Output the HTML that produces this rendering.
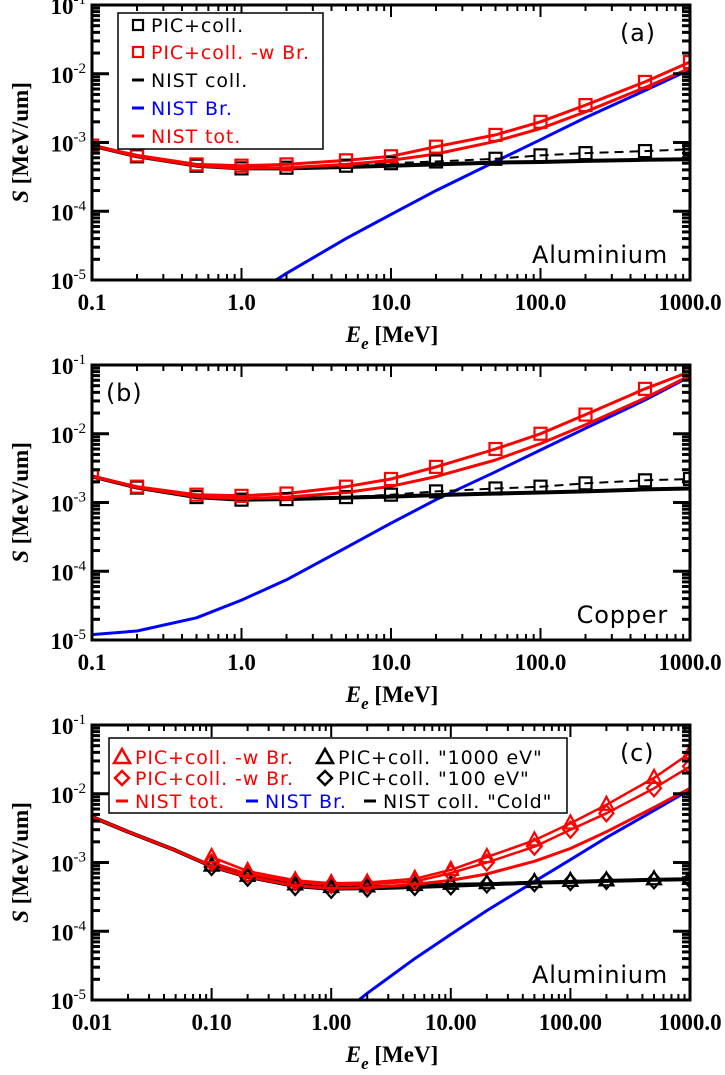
<!DOCTYPE html>
<html><head><meta charset="utf-8">
<style>
html,body{margin:0;padding:0;background:#fff;}
svg{display:block;}
.tl{font-family:"Liberation Serif",serif;font-weight:bold;font-size:23px;fill:#000;}
.lg{font-family:"DejaVu Sans","Liberation Sans",sans-serif;font-size:19px;letter-spacing:0.9px;}
.ann{font-family:"DejaVu Sans","Liberation Sans",sans-serif;font-size:24px;fill:#000;letter-spacing:0.8px;}
</style></head>
<body>
<svg id="fig" width="725" height="1075" viewBox="0 0 725 1075" xmlns="http://www.w3.org/2000/svg"></svg>
<script>
// ===== Panel (a) Aluminium =====
const aE = [0.1,0.2,0.5,1,2,5,10,20,50,100,200,500,1000];
const aColl = [9e-4,6.3e-4,4.6e-4,4.2e-4,4.2e-4,4.4e-4,4.6e-4,4.8e-4,5.1e-4,5.2e-4,5.4e-4,5.6e-4,5.7e-4];
const aBrE = [1.7,2,5,10,20,50,100,200,500,1000];
const aBr = [1e-5,1.25e-5,4e-5,9e-5,2e-4,5.3e-4,1.1e-3,2.3e-3,5.7e-3,1.15e-2];
const aTot = [9e-4,6.3e-4,4.6e-4,4.2e-4,4.3e-4,4.8e-4,5.5e-4,6.8e-4,1.04e-3,1.6e-3,2.8e-3,6.3e-3,1.2e-2];
const aPic = [9e-4,6.3e-4,4.6e-4,4.2e-4,4.3e-4,4.6e-4,5.0e-4,5.3e-4,5.8e-4,6.5e-4,7.0e-4,7.5e-4,8e-4];
const aPicBr = [9e-4,6.5e-4,4.8e-4,4.6e-4,4.8e-4,5.5e-4,6.3e-4,8.7e-4,1.29e-3,2.0e-3,3.5e-3,7.6e-3,1.48e-2];
// ===== Panel (b) Copper =====
const bE = [0.1,0.2,0.5,1,2,5,10,20,50,100,200,500,1000];
const bColl = [2.4e-3,1.65e-3,1.2e-3,1.1e-3,1.12e-3,1.18e-3,1.22e-3,1.28e-3,1.35e-3,1.4e-3,1.45e-3,1.55e-3,1.6e-3];
const bBr = [1.2e-5,1.35e-5,2.1e-5,3.8e-5,7.5e-5,2.2e-4,5e-4,1.1e-3,2.8e-3,5.8e-3,1.2e-2,3.1e-2,6.8e-2];
const bTot = [2.4e-3,1.66e-3,1.22e-3,1.14e-3,1.2e-3,1.4e-3,1.72e-3,2.38e-3,4.15e-3,7.2e-3,1.35e-2,3.3e-2,7.0e-2];
const bPic = [2.4e-3,1.65e-3,1.2e-3,1.1e-3,1.12e-3,1.2e-3,1.3e-3,1.45e-3,1.6e-3,1.7e-3,1.9e-3,2.1e-3,2.2e-3];
const bPicBr = [2.4e-3,1.7e-3,1.3e-3,1.25e-3,1.35e-3,1.7e-3,2.2e-3,3.3e-3,6e-3,1.0e-2,1.9e-2,4.5e-2,8e-2];
// ===== Panel (c) Aluminium, temperatures =====
const cE = [0.01,0.02,0.05,0.1,0.2,0.5,1,2,5,10,20,50,100,200,500,1000];
const cColl = [4.6e-3,2.8e-3,1.5e-3,8.8e-4,6.2e-4,4.6e-4,4.2e-4,4.2e-4,4.4e-4,4.6e-4,4.8e-4,5.1e-4,5.2e-4,5.4e-4,5.6e-4,5.7e-4];
const cTot = [4.6e-3,2.8e-3,1.5e-3,8.8e-4,6.2e-4,4.6e-4,4.2e-4,4.3e-4,4.8e-4,5.5e-4,6.8e-4,1.04e-3,1.6e-3,2.8e-3,6.3e-3,1.2e-2];
const cPE = [0.1,0.2,0.5,1,2,5,10,20,50,100,200,500,1000];
const cTriBr = [1.2e-3,7.5e-4,5.5e-4,5e-4,5.1e-4,5.8e-4,7.8e-4,1.2e-3,2.1e-3,3.7e-3,6.9e-3,1.7e-2,3.9e-2];
const cDiaBr = [1.0e-3,6.8e-4,5.2e-4,4.7e-4,4.8e-4,5.3e-4,7e-4,1.0e-3,1.7e-3,3.0e-3,5.2e-3,1.2e-2,2.5e-2];
const cTri = [9e-4,6.4e-4,4.8e-4,4.4e-4,4.5e-4,4.7e-4,4.9e-4,5.0e-4,5.2e-4,5.4e-4,5.5e-4,5.7e-4,5.8e-4];
const cDia = [8.6e-4,6.0e-4,4.4e-4,4.0e-4,4.2e-4,4.4e-4,4.5e-4,4.8e-4,5.0e-4,5.2e-4,5.4e-4,5.5e-4,5.6e-4];
const yTickExp = [-1,-2,-3,-4,-5];
const abXLabels = ["0.1","1.0","10.0","100.0","1000.0"];
const cXLabels = ["0.01","0.10","1.00","10.00","100.00","1000.0"];

const NS="http://www.w3.org/2000/svg";
const svg=document.getElementById('fig');
function mk(tag,attrs,parent){const e=document.createElementNS(NS,tag);for(const k in attrs)e.setAttribute(k,attrs[k]);(parent||svg).appendChild(e);return e;}

function panel(p){
  const g=mk('g',{});
  
  
  const L=92,R=690,T=p.top,B=p.top+275;
  const sx=v=>L+(Math.log10(v)-p.xmin)/(p.xmax-p.xmin)*(R-L);
  const sy=v=>T+(-1-Math.log10(v))/4*(B-T);
  const clip='clip-'+p.name;
  const cp=mk('clipPath',{id:clip},g);mk('rect',{x:L,y:T,width:R-L,height:B-T},cp);
  const plot=mk('g',{'clip-path':'url(#'+clip+')'},g);
  function line(xs,ys,color,name,dash,w){
    const d=xs.map((x,i)=>(i?'L':'M')+sx(x).toFixed(1)+','+sy(ys[i]).toFixed(1)).join(' ');
    const e=mk('path',{d:d,fill:'none',stroke:color,'stroke-width':w||3,'stroke-linejoin':'round'},plot);
    if(dash)e.setAttribute('stroke-dasharray',dash);
    
    
  }
  function markers(xs,ys,color,shape,name){
    const mg=mk('g',{},plot);
    
    
    xs.forEach((x,i)=>{
      const cx=sx(x),cy=sy(ys[i]);let e;
      if(shape==='sq')e=mk('rect',{x:cx-6,y:cy-6,width:12,height:12,fill:'none',stroke:color,'stroke-width':2.2},mg);
      else if(shape==='tri')e=mk('path',{d:`M${cx},${cy-8}L${cx+7},${cy+5}L${cx-7},${cy+5}Z`,fill:'none',stroke:color,'stroke-width':2.2},mg);
      else e=mk('path',{d:`M${cx},${cy-8}L${cx+7},${cy}L${cx},${cy+8}L${cx-7},${cy}Z`,fill:'none',stroke:color,'stroke-width':2.2},mg);
      
      
    });
  }
  p.draw(line,markers);
  const fr=mk('rect',{x:L,y:T,width:R-L,height:B-T,fill:'none',stroke:'#000','stroke-width':3},g);
  
  
  yTickExp.forEach((ex)=>{
    const v=Math.pow(10,ex),y=sy(v);
    mk('line',{x1:L,x2:L+17,y1:y,y2:y,stroke:'#000','stroke-width':3},g);
    mk('line',{x1:R,x2:R-17,y1:y,y2:y,stroke:'#000','stroke-width':3},g);
    for(let m=2;m<10;m++){const yy=sy(v*m);if(yy<T)continue;
      mk('line',{x1:L,x2:L+8,y1:yy,y2:yy,stroke:'#000','stroke-width':3},g);
      mk('line',{x1:R,x2:R-8,y1:yy,y2:yy,stroke:'#000','stroke-width':3},g);}
    const t=mk('text',{x:L-6,y:y+9,'text-anchor':'end',class:'tl'},g);
    
    
    const a=mk('tspan',{},t);a.textContent='10';
    const b=mk('tspan',{dy:-10,'font-size':15,'font-weight':'normal'},t);b.textContent=String(ex);
  });
  const nd=p.xmax-p.xmin;
  for(let d=0;d<=nd;d++){
    const v=Math.pow(10,p.xmin+d),x=sx(v);
    mk('line',{x1:x,x2:x,y1:B,y2:B-12,stroke:'#000','stroke-width':2},g);
    mk('line',{x1:x,x2:x,y1:T,y2:T+12,stroke:'#000','stroke-width':2},g);
    if(d<nd)for(let m=2;m<10;m++){const xx=sx(v*m);
      mk('line',{x1:xx,x2:xx,y1:B,y2:B-6,stroke:'#000','stroke-width':2},g);
      mk('line',{x1:xx,x2:xx,y1:T,y2:T+6,stroke:'#000','stroke-width':2},g);}
    const t=mk('text',{x:x,y:B+30,'text-anchor':'middle',class:'tl'},g);
    t.textContent=p.xlabels[d];
    
    
  }
  const xt=mk('text',{x:392,y:B+62,'text-anchor':'middle',class:'tl','font-size':27},g);
  
  
  const e1=mk('tspan',{'font-style':'italic'},xt);e1.textContent='E';
  const e2=mk('tspan',{'font-style':'italic','font-size':17,dy:7},xt);e2.textContent='e';
  const e3=mk('tspan',{dy:-7},xt);e3.textContent=' [MeV]';
  const yt=mk('text',{x:0,y:0,'text-anchor':'middle',class:'tl','font-size':28,transform:`translate(28,${(T+B)/2}) rotate(-90)`},g);
  
  
  const s1=mk('tspan',{'font-style':'italic'},yt);s1.textContent='S';
  const s2=mk('tspan',{},yt);s2.textContent=' [MeV/um]';
  const pl=mk('text',{x:p.labX,y:T+36,class:'ann','font-size':28},g);pl.textContent=p.label;
  
  
  const mt=mk('text',{x:668,y:B-17,'text-anchor':'end',class:'ann'},g);mt.textContent=p.material;
  
  
  return g;
}

function legendEntry(g,x,y,color,sym,text){
  const e=mk('g',{},g);
  
  
  if(sym==='sq')mk('rect',{x:x-5,y:y-5,width:10,height:10,fill:'none',stroke:color,'stroke-width':2.2},e);
  else if(sym==='tri')mk('path',{d:`M${x},${y-8}L${x+8},${y+6}L${x-8},${y+6}Z`,fill:'none',stroke:color,'stroke-width':2.5},e);
  else if(sym==='dia')mk('path',{d:`M${x},${y-7}L${x+7},${y}L${x},${y+7}L${x-7},${y}Z`,fill:'none',stroke:color,'stroke-width':2.5},e);
  else mk('line',{x1:x-6,x2:x+6,y1:y,y2:y,stroke:color,'stroke-width':3},e);
  const t=mk('text',{x:x+13,y:y+7,class:'lg',fill:color},e);t.textContent=text;
}

panel({name:'panel-a-aluminium',top:5,xmin:-1,xmax:3,xlabels:abXLabels,label:'(a)',labX:620,material:'Aluminium',
 draw:(line,markers)=>{
  line(aBrE,aBr,'#0000ff','nist-br-line');
  line(aE,aPic,'#000','pic-coll-line','9,6',2);
  line(aE,aColl,'#000','nist-coll-line',null,4);
  line(aE,aTot,'#ff0000','nist-tot-line');
  line(aE,aPicBr,'#ff0000','pic-coll-br-line');
  markers(aE,aPic,'#000','sq','pic-coll-markers');
  markers(aE,aPicBr,'#ff0000','sq','pic-coll-br-markers');
 }});
panel({name:'panel-b-copper',top:365,xmin:-1,xmax:3,xlabels:abXLabels,label:'(b)',labX:106,material:'Copper',
 draw:(line,markers)=>{
  line(bE,bBr,'#0000ff','nist-br-line');
  line(bE,bPic,'#000','pic-coll-line','9,6',2);
  line(bE,bColl,'#000','nist-coll-line',null,4);
  line(bE,bTot,'#ff0000','nist-tot-line');
  line(bE,bPicBr,'#ff0000','pic-coll-br-line');
  markers(bE,bPic,'#000','sq','pic-coll-markers');
  markers(bE,bPicBr,'#ff0000','sq','pic-coll-br-markers');
 }});
panel({name:'panel-c-aluminium-temp',top:725,xmin:-2,xmax:3,xlabels:cXLabels,label:'(c)',labX:620,material:'Aluminium',
 draw:(line,markers)=>{
  line(aBrE,aBr,'#0000ff','nist-br-line');
  line(cE,cColl,'#000','nist-coll-cold-line',null,4);
  line(cPE,cTri,'#000','pic-1000ev-line',null,2);
  line(cPE,cDia,'#000','pic-100ev-line',null,2);
  line(cE,cTot,'#ff0000','nist-tot-line');
  line(cPE,cTriBr,'#ff0000','pic-1000ev-br-line',null,2.5);
  line(cPE,cDiaBr,'#ff0000','pic-100ev-br-line',null,2.5);
  markers(cPE,cTri,'#000','tri','pic-1000ev-markers');
  markers(cPE,cDia,'#000','dia','pic-100ev-markers');
  markers(cPE,cTriBr,'#ff0000','tri','pic-1000ev-br-markers');
  markers(cPE,cDiaBr,'#ff0000','dia','pic-100ev-br-markers');
 }});

const la=mk('g',{});


mk('rect',{x:118,y:13,width:205,height:136,fill:'#fff',stroke:'#000','stroke-width':1.5},la);
legendEntry(la,138,25,'#000','sq','PIC+coll.');
legendEntry(la,138,52,'#ff0000','sq','PIC+coll. -w Br.');
legendEntry(la,138,80,'#000','dash','NIST coll.');
legendEntry(la,138,108,'#0000ff','dash','NIST Br.');
legendEntry(la,138,136,'#ff0000','dash','NIST tot.');
const lc=mk('g',{});


mk('rect',{x:109,y:738,width:458,height:75,fill:'#fff',stroke:'#000','stroke-width':1.5},lc);
legendEntry(lc,122,757,'#ff0000','tri','PIC+coll. -w Br.');
legendEntry(lc,122,778,'#ff0000','dia','PIC+coll. -w Br.');
legendEntry(lc,122,801,'#ff0000','dash','NIST tot.');
legendEntry(lc,325,757,'#000','tri','PIC+coll. "1000 eV"');
legendEntry(lc,325,778,'#000','dia','PIC+coll. "100 eV"');
legendEntry(lc,252,801,'#0000ff','dash','NIST Br.');
legendEntry(lc,370,801,'#000','dash','NIST coll. "Cold"');
</script>
</body></html>
